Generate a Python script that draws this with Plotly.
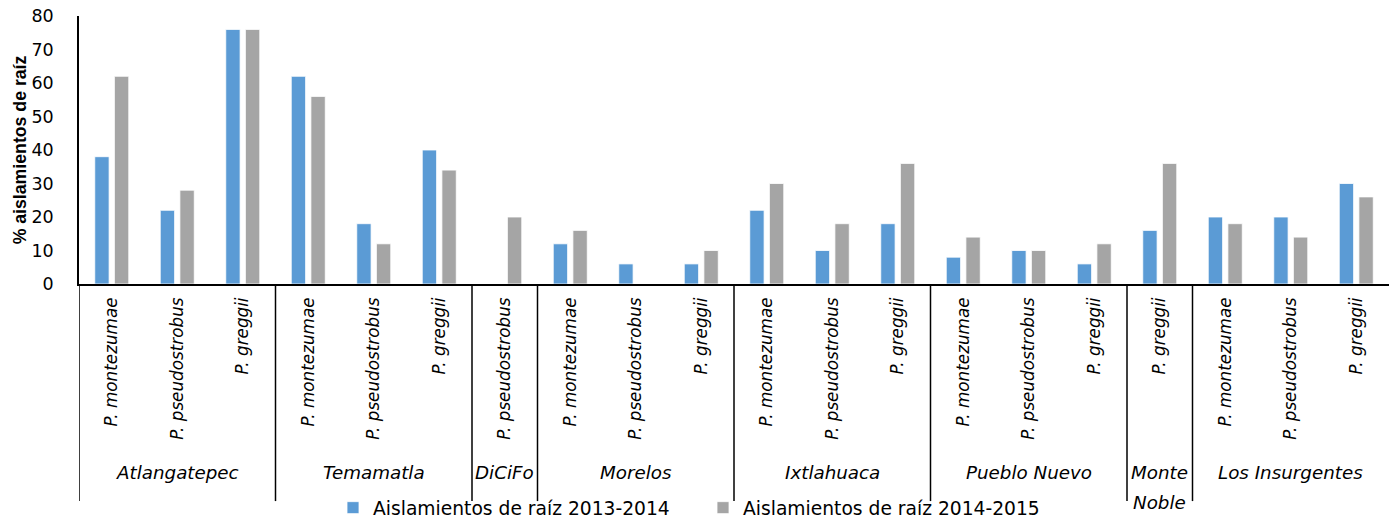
import plotly.graph_objects as go

# Sampling site of each bar position
sites = (["Atlangatepec"] * 3 + ["Temamatla"] * 3 + ["DiCiFo"] + ["Morelos"] * 3
         + ["Ixtlahuaca"] * 3 + ["Pueblo Nuevo"] * 3 + ["Monte Noble"] + ["Los Insurgentes"] * 3)

# Pine species at each bar position
species = ["P. montezumae", "P. pseudostrobus", "P. greggii",
           "P. montezumae", "P. pseudostrobus", "P. greggii",
           "P. pseudostrobus",
           "P. montezumae", "P. pseudostrobus", "P. greggii",
           "P. montezumae", "P. pseudostrobus", "P. greggii",
           "P. montezumae", "P. pseudostrobus", "P. greggii",
           "P. greggii",
           "P. montezumae", "P. pseudostrobus", "P. greggii"]

# % root isolations per season (None = no isolation recorded)
iso_2013_2014 = [38, 22, 76, 62, 18, 40, None, 12, 6, 6, 22, 10, 18, 8, 10, 6, 16, 20, 20, 30]
iso_2014_2015 = [62, 28, 76, 56, 12, 34, 20, 16, None, 10, 30, 18, 36, 14, 10, 12, 36, 18, 14, 26]

series_names = ["Aislamientos de raíz 2013-2014", "Aislamientos de raíz 2014-2015"]
series_colors = ["#5B9BD5", "#A5A5A5"]

# Site labels as drawn under each group (long one wrapped onto two lines)
site_lines = {"Monte Noble": ["Monte", "Noble"]}

y_ticks = [0, 10, 20, 30, 40, 50, 60, 70, 80]

FONT = "DejaVu Sans"

# unique category key per bar position
cats = [f"{s} | {sp}" for s, sp in zip(sites, species)]

fig = go.Figure()
for name, vals, col in zip(series_names, [iso_2013_2014, iso_2014_2015], series_colors):
    fig.add_trace(go.Bar(
        x=cats, y=vals, name=name,
        marker=dict(color=col, line=dict(color="white", width=0.8)),
    ))

# group boundaries and centres on the category axis
groups = []
for i, s in enumerate(sites):
    if not groups or groups[-1][0] != s:
        groups.append([s, i, i])
    else:
        groups[-1][2] = i

shapes = []
annotations = []
LINE = dict(color="black", width=1.5)
Y_BOTTOM = -0.81
LABEL_Y = -0.655
for s, i0, i1 in groups:
    # divider at the left edge of each group, running down through the labels
    shapes.append(dict(type="line", xref="x", yref="paper",
                       x0=i0 - 0.5, x1=i0 - 0.5, y0=0, y1=Y_BOTTOM, line=LINE))
    for k, line_text in enumerate(site_lines.get(s, [s])):
        annotations.append(dict(
            xref="x", yref="paper", x=(i0 + i1) / 2, y=LABEL_Y, yshift=-30 * k,
            text=f"<i>{line_text}</i>", showarrow=False,
            xanchor="center", yanchor="top",
            font=dict(family=FONT, size=18.3, color="black"),
        ))

fig.update_layout(
    width=1390, height=521,
    margin=dict(l=79, r=1, t=16, b=237),
    paper_bgcolor="white", plot_bgcolor="white",
    barmode="group", bargap=0.40, bargroupgap=0.27,
    font=dict(family=FONT, color="black"),
    shapes=shapes, annotations=annotations,
    showlegend=True,
    legend=dict(orientation="h", xref="container", yref="container",
                x=333 / 1390, y=(521 - 508) / 521, xanchor="left", yanchor="middle",
                entrywidth=325, entrywidthmode="pixels",
                font=dict(family=FONT, size=18.7, color="black"),
                bgcolor="rgba(0,0,0,0)"),
)

fig.update_xaxes(
    type="category", range=[-0.5, len(cats) - 0.5],
    tickvals=cats, ticktext=species, tickangle=-90,
    tickfont=dict(family=FONT, size=16.8, color="black", style="italic"),
    ticks="", ticklabelstandoff=5,
    showline=True, linecolor="black", linewidth=1.5,
    showgrid=False, zeroline=False,
)
fig.update_yaxes(
    range=[0, 80], tickvals=y_ticks,
    tickfont=dict(family=FONT, size=17.5, color="black"),
    ticks="", ticklabelstandoff=20,
    showline=True, linecolor="black", linewidth=1.5,
    showgrid=False, zeroline=False,
    title=dict(text="<b>% aislamientos de raíz</b>", standoff=0,
               font=dict(family="Liberation Sans", size=17.7, color="black")),
)

fig.write_html("out.html")
